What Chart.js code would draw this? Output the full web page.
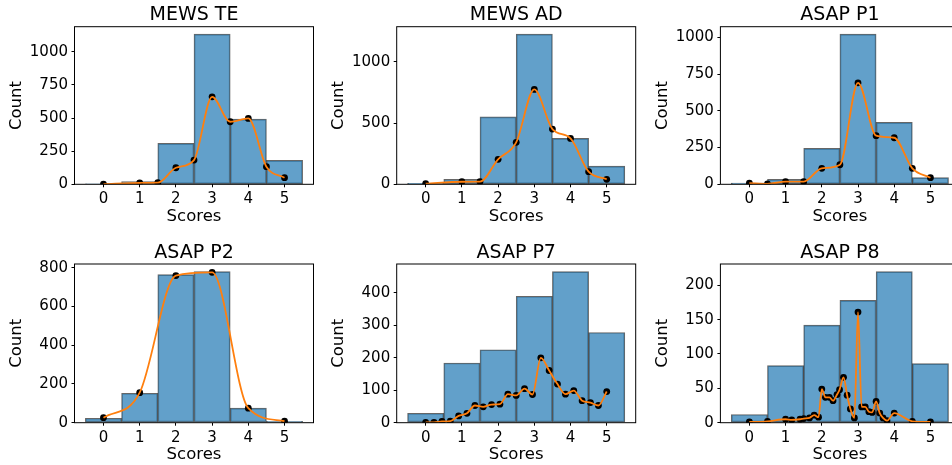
<!DOCTYPE html>
<html>
<head>
<meta charset="utf-8">
<script src="https://cdn.jsdelivr.net/npm/chart.js@4.4.1/dist/chart.umd.min.js"></script>
<style>
  html, body { margin: 0; padding: 0; background: #fff; overflow: hidden; }
  body { width: 952px; height: 465px; position: relative; }
  canvas { position: absolute; }
</style>
</head>
<body>
<canvas id="p0" width="322" height="232" style="left:0px;top:0px"></canvas>
<canvas id="p1" width="322" height="232" style="left:322px;top:0px"></canvas>
<canvas id="p2" width="322" height="232" style="left:645px;top:0px"></canvas>
<canvas id="p3" width="322" height="228" style="left:0px;top:237px"></canvas>
<canvas id="p4" width="322" height="228" style="left:322px;top:237px"></canvas>
<canvas id="p5" width="322" height="228" style="left:645px;top:237px"></canvas>
<script>
// score bins (bar centres) and x tick labels, shared by all panels
const scoreBins = [0, 1, 2, 3, 4, 5];
const scoreTicks = [0, 1, 2, 3, 4, 5];

// MEWS TE
const mewsTeCounts = [2, 20, 309, 1133, 492, 181];
const mewsTeCurveX = [0, 1, 1.5, 2, 2.5, 3, 3.5, 4, 4.5, 5];
const mewsTeCurveY = [2, 10, 12, 125, 183, 660, 472, 497, 133, 50];
const mewsTeTicks = [0, 250, 500, 750, 1000];

// MEWS AD
const mewsAdCounts = [8, 41, 551, 1226, 375, 149];
const mewsAdCurveX = [0, 1, 1.5, 2, 2.5, 3, 3.5, 4, 4.5, 5];
const mewsAdCurveY = [5, 21, 22, 204, 343, 775, 451, 375, 103, 41];
const mewsAdTicks = [0, 500, 1000];

// ASAP P1
const asapP1Counts = [9, 34, 245, 1022, 422, 45];
const asapP1CurveX = [0, 0.5, 1, 1.5, 2, 2.5, 3, 3.5, 4, 4.5, 5];
const asapP1CurveY = [8, 3, 18, 18, 109, 133, 691, 331, 317, 109, 45];
const asapP1Ticks = [0, 250, 500, 750, 1000];

// ASAP P2
const asapP2Counts = [23, 152, 765, 781, 75, 7];
const asapP2CurveX = [0, 1, 2, 3, 4, 5];
const asapP2CurveY = [26, 155, 760, 777, 75, 8];
const asapP2Ticks = [0, 200, 400, 600, 800];

// ASAP P7
const asapP7Counts = [29, 184, 225, 390, 466, 278];
const asapP7CurveX = [0, 0.23, 0.45, 0.68, 0.91, 1.14, 1.36, 1.59, 1.82, 2.05, 2.27, 2.5,
  2.73, 2.95, 3.18, 3.41, 3.64, 3.86, 4.09, 4.32, 4.55, 4.77, 5];
const asapP7CurveY = [1, 1, 4, 5, 21, 29, 53, 49, 56, 57, 88, 84,
  105, 87, 200, 161, 119, 88, 99, 68, 62, 53, 96];
const asapP7Ticks = [0, 100, 200, 300, 400];

// ASAP P8
const asapP8Counts = [12, 83, 142, 178, 220, 86];
const asapP8CurveX = [0, 0.5, 1.0, 1.17, 1.4, 1.5, 1.66, 1.79, 1.91, 2.0, 2.1, 2.21, 2.31, 2.42,
  2.49, 2.6, 2.7, 2.79, 2.9, 3.0, 3.1, 3.2, 3.3, 3.39, 3.5, 3.6, 3.69, 3.8, 4.0, 4.5, 5.0];
const asapP8CurveY = [1, 2, 5, 4, 5, 6, 7, 11, 8, 49, 37, 37, 32, 41,
  48, 66, 40, 20, 7, 161, 23, 23, 16, 15, 31, 14, 7, 3, 14, 2, 1];
const asapP8Ticks = [0, 50, 100, 150, 200];

Chart.defaults.font.family = "'DejaVu Sans', sans-serif";
Chart.defaults.color = "#000";

// black box round the plot area, like matplotlib spines
const framePlugin = {
    id: "frame",
    afterDraw(chart) {
        const a = chart.chartArea;
        const ctx = chart.ctx;
        ctx.save();
        ctx.strokeStyle = "#000";
        ctx.lineWidth = 1;
        ctx.strokeRect(a.left, a.top, a.right - a.left, a.bottom - a.top);
        ctx.restore();
    }
};

// layout per row / column (pixel offsets inside each canvas)
const rowBox = [
    { titleTop: 5.6, titleBottom: 2.1, axisH: 47.7, xTitlePad: 6.75 },
    { titleTop: 6.9, titleBottom: 1.1, axisH: 42.3, xTitlePad: 2.45 }
];
const colBox = [
    { axisW: 74.5 },
    { axisW: 74.7 },
    { axisW: 75.4 }
];

function drawPanel(id, row, col, title, counts, curveX, curveY, yTicks) {
    const ctx = document.getElementById(id).getContext("2d");
    const r = rowBox[row];
    const c = colBox[col];
    const yMax = Math.max(...counts) * 1.05;

    return new Chart(ctx, {
        type: "bar",
        data: {
            datasets: [
                {
                    type: "line",
                    data: curveX.map((x, i) => ({ x: x, y: curveY[i] })),
                    borderColor: "#ff7f0e",
                    borderWidth: 1.8,
                    pointRadius: 0,
                    cubicInterpolationMode: "monotone",
                    order: 0
                },
                {
                    type: "scatter",
                    data: curveX.map((x, i) => ({ x: x, y: curveY[i] })),
                    backgroundColor: "#000",
                    borderWidth: 0,
                    pointRadius: 3.4,
                    order: 1
                },
                {
                    type: "bar",
                    data: scoreBins.map((x, i) => ({ x: x, y: counts[i] })),
                    backgroundColor: "rgba(31,119,180,0.7)",
                    borderColor: "rgba(0,0,0,0.6)",
                    borderWidth: 1,
                    borderSkipped: false,
                    barPercentage: 1,
                    categoryPercentage: 1,
                    order: 2
                }
            ]
        },
        options: {
            responsive: false,
            animation: false,
            devicePixelRatio: 1,
            layout: { padding: { left: 0, top: 0, bottom: 0, right: 322 - c.axisW - 239 }, autoPadding: false },
            plugins: {
                legend: { display: false },
                tooltip: { enabled: false },
                title: {
                    display: true,
                    fullSize: false,
                    text: title,
                    color: "#000",
                    font: { size: 19, weight: "normal", lineHeight: 1 },
                    padding: { top: r.titleTop, bottom: r.titleBottom }
                }
            },
            scales: {
                x: {
                    type: "linear",
                    min: -0.8,
                    max: 5.8,
                    offset: false,
                    afterBuildTicks: (axis) => { axis.ticks = scoreTicks.map(v => ({ value: v })); },
                    afterFit: (axis) => { axis.height = r.axisH; },
                    ticks: { font: { size: 15 }, padding: 3, maxRotation: 0, autoSkip: false, color: "#000",
                             callback: (v) => String(v) },
                    grid: { offset: false, drawOnChartArea: false, drawTicks: true, tickLength: 3, tickColor: "#000", color: "#000" },
                    border: { display: false },
                    title: {
                        display: true,
                        text: "Scores",
                        color: "#000",
                        font: { size: 16.5, lineHeight: 1 },
                        padding: { top: 0, bottom: r.xTitlePad }
                    }
                },
                y: {
                    min: 0,
                    max: yMax,
                    afterBuildTicks: (axis) => { axis.ticks = yTicks.map(v => ({ value: v })); },
                    afterFit: (axis) => { axis.width = c.axisW; },
                    ticks: { font: { size: 15 }, padding: 3.5, color: "#000", callback: (v) => String(v) },
                    grid: { drawOnChartArea: false, drawTicks: true, tickLength: 3, tickColor: "#000", color: "#000" },
                    border: { display: false },
                    title: {
                        display: true,
                        text: "Count",
                        color: "#000",
                        font: { size: 16.5, lineHeight: 1 },
                        padding: { top: c.axisW - 58 - 8.25, bottom: 0 }
                    }
                }
            }
        },
        plugins: [framePlugin]
    });
}

drawPanel("p0", 0, 0, "MEWS TE", mewsTeCounts, mewsTeCurveX, mewsTeCurveY, mewsTeTicks);
drawPanel("p1", 0, 1, "MEWS AD", mewsAdCounts, mewsAdCurveX, mewsAdCurveY, mewsAdTicks);
drawPanel("p2", 0, 2, "ASAP P1", asapP1Counts, asapP1CurveX, asapP1CurveY, asapP1Ticks);
drawPanel("p3", 1, 0, "ASAP P2", asapP2Counts, asapP2CurveX, asapP2CurveY, asapP2Ticks);
drawPanel("p4", 1, 1, "ASAP P7", asapP7Counts, asapP7CurveX, asapP7CurveY, asapP7Ticks);
drawPanel("p5", 1, 2, "ASAP P8", asapP8Counts, asapP8CurveX, asapP8CurveY, asapP8Ticks);
</script>
</body>
</html>
